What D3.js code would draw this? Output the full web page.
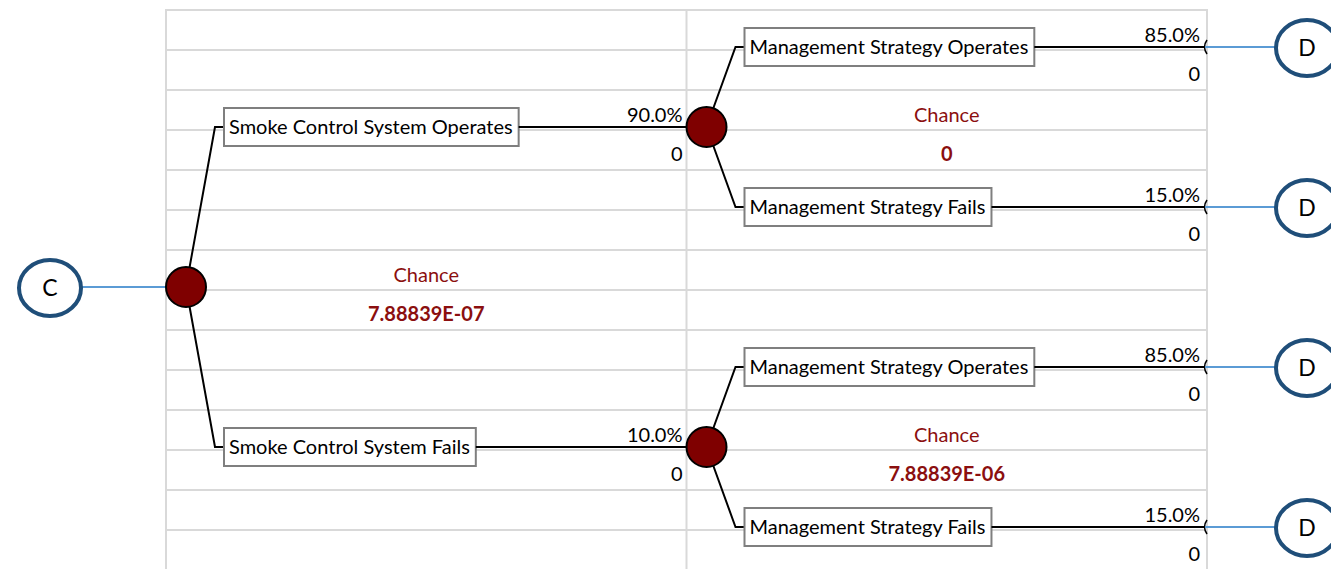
<!DOCTYPE html>
<html>
<head>
<meta charset="utf-8">
<script src="https://cdn.jsdelivr.net/npm/d3@7"></script>
<style>
  body { margin: 0; background: #fff; }
  svg { display: block; font-family: Lato, "Noto Sans", sans-serif; }
</style>
</head>
<body>
<svg id="tree" width="1331" height="569"></svg>
<script>
// decision tree data
const rootLabel = "C";
const terminalLabel = "D";
const level1Names = ["Smoke Control System Operates", "Smoke Control System Fails"];
const level1Probs = [0.90, 0.10];
const level1Values = [0, 0];
const level2Names = ["Management Strategy Operates", "Management Strategy Fails"];
const level2Probs = [0.85, 0.15];
const level2Values = [0, 0];
// root chance node, then the chance node after each level-1 branch
const chanceNames = ["Chance", "Chance", "Chance"];
const chanceValues = ["7.88839E-07", "0", "7.88839E-06"];

const width = 1331, height = 569;
const fontSize = 20;
const gridColor = "#d9d9d9",
      nodeFill = "#7f0000",
      chanceColor = "#8b0f0f",
      endColor = "#1f4e79",
      linkColor = "#5b9bd5";

const svg = d3.select("#tree");

// build the tree
const treeData = {
  name: rootLabel, chance: chanceNames[0], cvalue: chanceValues[0],
  children: level1Names.map((n, i) => ({
    name: n, prob: level1Probs[i], value: level1Values[i],
    chance: chanceNames[i + 1], cvalue: chanceValues[i + 1],
    children: level2Names.map((m, j) => ({
      name: m, prob: level2Probs[j], value: level2Values[j]
    }))
  }))
};
const root = d3.hierarchy(treeData);

// rows: leaves every 4 rows, parents in the middle of their children
root.leaves().forEach((d, i) => { d.row = 1 + 4 * i; });
root.eachAfter(d => { if (d.children) d.row = d3.mean(d.children, c => c.row); });

// sheet grid scales
const rowY = d3.scaleLinear().domain([0, 14]).range([10, 570]);
const colX = d3.scaleLinear().domain([0, 2]).range([166, 1207]);
const nodeY = d => rowY(d.row) - 3;
const fmtPct = d3.format(".1%");

// grid
const grid = svg.append("g");
grid.selectAll("line.h")
  .data(d3.range(0, 14))
  .join("line")
  .attr("x1", colX(0)).attr("x2", colX(2))
  .attr("y1", d => rowY(d)).attr("y2", d => rowY(d))
  .attr("stroke", gridColor).attr("stroke-width", 2);
grid.selectAll("line.v")
  .data(d3.range(0, 3))
  .join("line")
  .attr("x1", d => colX(d)).attr("x2", d => colX(d))
  .attr("y1", rowY(0) - 1).attr("y2", height)
  .attr("stroke", gridColor).attr("stroke-width", 2);

// start node
const rootY = nodeY(root);
svg.append("line")
  .attr("x1", 82).attr("x2", colX(0))
  .attr("y1", rootY).attr("y2", rootY)
  .attr("stroke", linkColor).attr("stroke-width", 2);
svg.append("ellipse")
  .attr("cx", 50).attr("cy", rootY + 1).attr("rx", 31).attr("ry", 28)
  .attr("fill", "#fff").attr("stroke", endColor).attr("stroke-width", 4);
svg.append("text")
  .attr("x", 50).attr("y", rootY + 9)
  .attr("text-anchor", "middle").attr("font-size", 23)
  .text(rootLabel);

const nodeX = d => colX(d.depth) + 20;
const endX = colX(2) - 2;

const branches = svg.append("g");
const branchNodes = root.descendants().filter(d => d.depth > 0);

branchNodes.forEach(d => {
  const px = nodeX(d.parent), py = nodeY(d.parent);
  const y = nodeY(d);
  const boxX = px + 38;
  const g = branches.append("g");

  g.append("path")
    .attr("d", `M${px},${py}L${boxX - 9},${y}L${boxX},${y}`)
    .attr("fill", "none").attr("stroke", "#000").attr("stroke-width", 2);

  const label = g.append("text")
    .attr("x", boxX + 5).attr("y", y + 7)
    .attr("font-size", fontSize)
    .text(d.data.name);
  const tw = label.node().getComputedTextLength();
  g.insert("rect", "text")
    .attr("x", boxX).attr("y", y - 19)
    .attr("width", tw + 11).attr("height", 38)
    .attr("fill", "#fff").attr("stroke", "#7f7f7f").attr("stroke-width", 2);

  const lineEnd = d.children ? nodeX(d) : endX;
  g.append("line")
    .attr("x1", boxX + tw + 11).attr("x2", lineEnd)
    .attr("y1", y).attr("y2", y)
    .attr("stroke", "#000").attr("stroke-width", 2);

  const txtX = d.children ? nodeX(d) - 24 : endX - 5;
  g.append("text")
    .attr("x", txtX).attr("y", y - 5)
    .attr("text-anchor", "end").attr("font-size", fontSize)
    .text(fmtPct(d.data.prob));
  g.append("text")
    .attr("x", txtX).attr("y", y + 34)
    .attr("text-anchor", "end").attr("font-size", fontSize)
    .text(d.data.value);

  if (!d.children) {
    // terminal link
    g.append("path")
      .attr("d", `M${endX + 2},${y - 7}Q${endX - 3},${y} ${endX + 2},${y + 7}`)
      .attr("fill", "none").attr("stroke", "#000").attr("stroke-width", 1.5);
    g.append("line")
      .attr("x1", endX).attr("x2", 1276)
      .attr("y1", y).attr("y2", y)
      .attr("stroke", linkColor).attr("stroke-width", 2);
    g.append("ellipse")
      .attr("cx", 1307).attr("cy", y + 1).attr("rx", 31).attr("ry", 28)
      .attr("fill", "#fff").attr("stroke", endColor).attr("stroke-width", 4);
    g.append("text")
      .attr("x", 1307).attr("y", y + 9)
      .attr("text-anchor", "middle").attr("font-size", 23)
      .text(terminalLabel);
  }
});

// chance nodes
const chanceNodes = root.descendants().filter(d => d.children);
chanceNodes.forEach(d => {
  const x = nodeX(d), y = nodeY(d);
  svg.append("circle")
    .attr("cx", x).attr("cy", y).attr("r", 20)
    .attr("fill", nodeFill).attr("stroke", "#000").attr("stroke-width", 2);
  const cx = (colX(d.depth) + colX(d.depth + 1)) / 2;
  svg.append("text")
    .attr("x", cx).attr("y", y - 5)
    .attr("text-anchor", "middle").attr("font-size", fontSize)
    .attr("fill", chanceColor)
    .text(d.data.chance);
  svg.append("text")
    .attr("x", cx).attr("y", y + 34)
    .attr("text-anchor", "middle").attr("font-size", fontSize)
    .attr("font-weight", "bold").attr("fill", chanceColor)
    .text(d.data.cvalue);
});
</script>
</body>
</html>
